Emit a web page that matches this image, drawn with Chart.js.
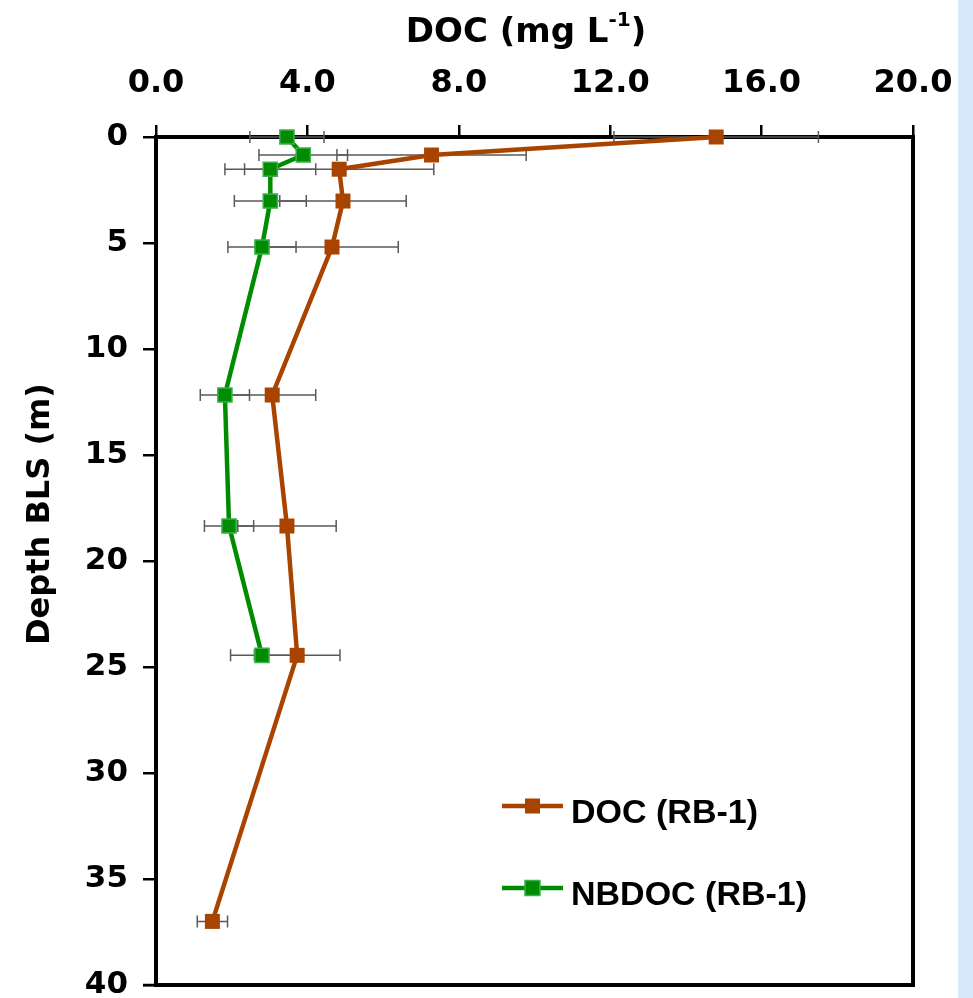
<!DOCTYPE html>
<html><head><meta charset="utf-8">
<script src="https://cdn.jsdelivr.net/npm/chart.js@4.4.1/dist/chart.umd.min.js"></script>
<style>html,body{margin:0;padding:0;background:#fff;}#wrap{width:973px;height:998px;position:relative;}</style>
</head><body><div id="wrap"><canvas id="c" width="973" height="998"></canvas></div>
<script>
// ---- data ----
const depthDOC   = [0, 0.85, 1.52, 3.02, 5.19, 12.17, 18.35, 24.45, 37.0];
const valuesDOC  = [14.8, 7.28, 4.84, 4.94, 4.65, 3.07, 3.46, 3.73, 1.49];
const errorDOC   = [2.7, 2.5, 2.5, 1.67, 1.75, 1.15, 1.3, 1.13, 0.4];
const depthNBDOC  = [0, 0.85, 1.52, 3.02, 5.19, 12.17, 18.35, 24.45];
const valuesNBDOC = [3.46, 3.89, 3.02, 3.02, 2.80, 1.82, 1.93, 2.80];
const errorNBDOC  = [0.98, 1.17, 1.2, 0.95, 0.9, 0.65, 0.65, 0.83];
const xTickValues = [0, 4, 8, 12, 16, 20];
const xTickLabels = ['0.0', '4.0', '8.0', '12.0', '16.0', '20.0'];
const yTickValues = [0, 5, 10, 15, 20, 25, 30, 35, 40];
const yTickLabels = ['0', '5', '10', '15', '20', '25', '30', '35', '40'];
const seriesLabels = ['DOC (RB-1)', 'NBDOC (RB-1)'];
const xTitleMain = 'DOC (mg L';
const xTitleSup = '-1';
const xTitleEnd = ')';
const yTitle = 'Depth BLS (m)';

const toPoints = (xs, ys) => xs.map((v, i) => ({ x: v, y: ys[i] }));
const labelFor = (vals, labels, v) => {
  const i = vals.findIndex(t => Math.abs(t - v) < 1e-9);
  return i >= 0 ? labels[i] : '';
};

const BROWN = '#A94400';
const GREEN = '#008C00';

const bgPlugin = {
  id: 'bg',
  beforeDraw(chart) {
    const ctx = chart.ctx;
    ctx.save();
    ctx.fillStyle = '#ffffff';
    ctx.fillRect(0, 0, chart.width, chart.height);
    ctx.fillStyle = '#D5E9FA';
    ctx.fillRect(958, 0, chart.width - 958, chart.height);
    ctx.restore();
  }
};

const framePlugin = {
  id: 'frame',
  beforeDatasetsDraw(chart) {
    const { ctx, chartArea: a } = chart;
    ctx.save();
    ctx.strokeStyle = '#000';
    ctx.lineWidth = 4;
    ctx.beginPath();
    ctx.moveTo(a.left - 2, a.bottom);
    ctx.lineTo(a.right, a.bottom);
    ctx.lineTo(a.right, a.top - 2);
    ctx.stroke();
    ctx.lineWidth = 2.5;
    ctx.beginPath();
    ctx.moveTo(a.left - 13, a.bottom);
    ctx.lineTo(a.left, a.bottom);
    ctx.stroke();
    // error bars
    const xs = chart.scales.x, ys = chart.scales.y;
    ctx.strokeStyle = '#5a5a5a';
    ctx.lineWidth = 1.5;
    chart.data.datasets.forEach((ds) => {
      ds.data.forEach((p, i) => {
        const e = ds.errors[i];
        const y = ys.getPixelForValue(p.y);
        const x1 = xs.getPixelForValue(p.x - e);
        const x2 = xs.getPixelForValue(p.x + e);
        ctx.beginPath();
        ctx.moveTo(x1, y); ctx.lineTo(x2, y);
        ctx.moveTo(x1, y - 6); ctx.lineTo(x1, y + 6);
        ctx.moveTo(x2, y - 6); ctx.lineTo(x2, y + 6);
        ctx.stroke();
      });
    });
    ctx.restore();
  }
};

const textPlugin = {
  id: 'texts',
  afterDraw(chart) {
    const ctx = chart.ctx;
    ctx.save();
    ctx.fillStyle = '#000';
    const bigFont = 'bold 34px "DejaVu Sans"';
    const supFont = 'bold 20px "DejaVu Sans"';
    ctx.font = bigFont;
    const w1 = ctx.measureText(xTitleMain).width;
    const w3 = ctx.measureText(xTitleEnd).width;
    ctx.font = supFont;
    const w2 = ctx.measureText(xTitleSup).width;
    const total = w1 + w2 + w3;
    let x = 526 - total / 2;
    ctx.textBaseline = 'alphabetic';
    ctx.textAlign = 'left';
    ctx.font = bigFont;
    ctx.fillText(xTitleMain, x, 42);
    x += w1;
    ctx.font = supFont;
    ctx.fillText(xTitleSup, x, 26);
    x += w2;
    ctx.font = bigFont;
    ctx.fillText(xTitleEnd, x, 42);

    ctx.save();
    ctx.translate(49, 514);
    ctx.rotate(-Math.PI / 2);
    ctx.font = 'bold 32px "DejaVu Sans"';
    ctx.textAlign = 'center';
    ctx.fillText(yTitle, 0, 0);
    ctx.restore();

    const items = [
      { ds: chart.data.datasets[0], y: 806, ty: 823 },
      { ds: chart.data.datasets[1], y: 888, ty: 905 }
    ];
    items.forEach(it => {
      const ds = it.ds;
      ctx.strokeStyle = ds.borderColor;
      ctx.lineWidth = 4.5;
      ctx.beginPath();
      ctx.moveTo(502, it.y); ctx.lineTo(563, it.y);
      ctx.stroke();
      ctx.fillStyle = ds.pointBackgroundColor;
      ctx.fillRect(525, it.y - 7.5, 15, 15);
      if (ds.pointBorderColor !== ds.pointBackgroundColor) {
        ctx.strokeStyle = ds.pointBorderColor;
        ctx.lineWidth = 1.5;
        ctx.strokeRect(525, it.y - 7.5, 15, 15);
      }
      ctx.fillStyle = '#000';
      ctx.font = 'bold 34px "Liberation Sans", Arial, sans-serif';
      ctx.textAlign = 'left';
      ctx.textBaseline = 'alphabetic';
      ctx.fillText(ds.label, 571, it.ty);
    });
    ctx.restore();
  }
};

new Chart(document.getElementById('c'), {
  type: 'line',
  data: {
    datasets: [
      {
        label: seriesLabels[0],
        data: toPoints(valuesDOC, depthDOC),
        errors: errorDOC,
        borderColor: BROWN,
        backgroundColor: BROWN,
        borderWidth: 4.5,
        pointStyle: 'rect',
        pointRadius: 10.6,
        pointBackgroundColor: BROWN,
        pointBorderColor: BROWN,
        pointBorderWidth: 0,
        tension: 0,
        clip: false
      },
      {
        label: seriesLabels[1],
        data: toPoints(valuesNBDOC, depthNBDOC),
        errors: errorNBDOC,
        borderColor: GREEN,
        backgroundColor: GREEN,
        borderWidth: 4.5,
        pointStyle: 'rect',
        pointRadius: 10,
        pointBackgroundColor: GREEN,
        pointBorderColor: '#3CB050',
        pointBorderWidth: 1.5,
        tension: 0,
        clip: false
      }
    ]
  },
  options: {
    responsive: false,
    animation: false,
    events: [],
    layout: { padding: { left: 0, top: 0, right: 60, bottom: 13 } },
    plugins: { legend: { display: false }, tooltip: { enabled: false }, title: { display: false } },
    scales: {
      x: {
        type: 'linear',
        position: 'top',
        min: 0, max: 20,
        afterFit: (s) => { s.height = 137; s.paddingLeft = 0; s.paddingRight = 0; },
        ticks: {
          stepSize: 4,
          color: '#000',
          padding: 22,
          font: { family: 'DejaVu Sans', weight: 'bold', size: 32 },
          callback: (v) => labelFor(xTickValues, xTickLabels, v)
        },
        grid: { display: true, drawOnChartArea: false, drawTicks: true, tickLength: 12, color: '#000', lineWidth: 2.5 },
        border: { display: true, color: '#000', width: 4 }
      },
      y: {
        type: 'linear',
        position: 'left',
        reverse: true,
        min: 0, max: 40,
        afterFit: (s) => { s.width = 156; s.paddingTop = 0; s.paddingBottom = 0; },
        ticks: {
          stepSize: 5,
          color: '#000',
          padding: 15,
          font: { family: 'DejaVu Sans', weight: 'bold', size: 31 },
          callback: (v) => labelFor(yTickValues, yTickLabels, v)
        },
        grid: { display: true, drawOnChartArea: false, drawTicks: true, tickLength: 13, color: '#000', lineWidth: 2.5 },
        border: { display: true, color: '#000', width: 4 }
      }
    }
  },
  plugins: [bgPlugin, framePlugin, textPlugin]
});
</script>
</body></html>
